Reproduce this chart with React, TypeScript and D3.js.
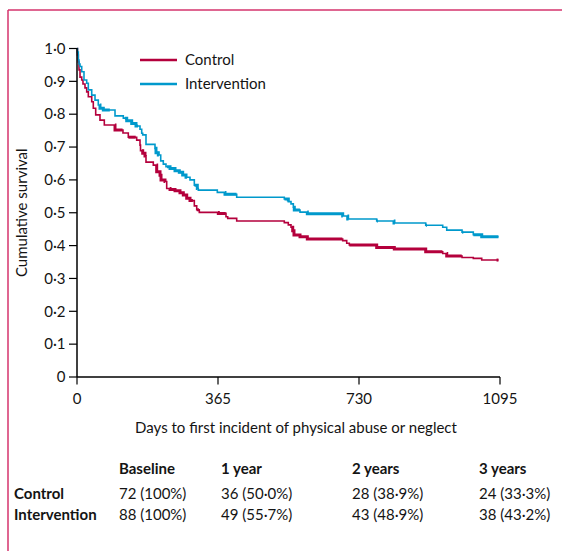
import React from "react";
import * as d3 from "d3";

// ---- Data ----
const controlSteps: [number, number][] = [
  [0, 1.0], [1.3, 0.98], [3.4, 0.959], [5.2, 0.935], [7.8, 0.913], [12.2, 0.904], [15.5, 0.892],
  [20.7, 0.88], [25.1, 0.868], [29.3, 0.853], [38.1, 0.838], [42.2, 0.818], [48.4, 0.798],
  [59.5, 0.782], [70.7, 0.767], [98.4, 0.752], [119, 0.743], [132.8, 0.73], [154.5, 0.721],
  [163.1, 0.706], [164.4, 0.689], [170.1, 0.681], [176, 0.673], [178.6, 0.654], [197.5, 0.645],
  [206.3, 0.625], [214.9, 0.614], [217.5, 0.6], [227.8, 0.595], [232.2, 0.574], [240.8, 0.571],
  [253.7, 0.567], [266.6, 0.561], [275.2, 0.554], [284, 0.544], [292.5, 0.537], [303.7, 0.521],
  [309.9, 0.509], [316.6, 0.501], [365.8, 0.498], [385.7, 0.488], [390.1, 0.483], [413.4, 0.475],
  [536.6, 0.47], [547, 0.463], [554, 0.456], [558.4, 0.445], [561.7, 0.432], [577.3, 0.427],
  [596.2, 0.42], [687.8, 0.415], [698.2, 0.407], [704.9, 0.402], [775.8, 0.394], [821.4, 0.39],
  [902.7, 0.381], [946.7, 0.376], [957.1, 0.368], [996.7, 0.364], [1025.9, 0.361], [1047.7, 0.356],
];
const controlEnd = 1091;

const interventionSteps: [number, number][] = [
  [0, 1.0], [1.3, 0.989], [3.4, 0.965], [5.2, 0.953], [7.8, 0.945], [12.2, 0.929], [18.1, 0.904],
  [25.1, 0.894], [29.3, 0.874], [38.1, 0.858], [46.6, 0.843], [55.1, 0.828], [59.5, 0.818],
  [68.1, 0.813], [98.4, 0.795], [119.9, 0.788], [128.7, 0.78], [141.6, 0.772], [152.7, 0.764],
  [163.1, 0.754], [167.5, 0.742], [170.1, 0.737], [178.6, 0.708], [201.9, 0.696], [204.5, 0.683],
  [210.5, 0.676], [216.7, 0.658], [223.4, 0.648], [230.4, 0.64], [240.8, 0.635], [253.7, 0.628],
  [264.8, 0.623], [273.6, 0.615], [282.2, 0.608], [292.5, 0.6], [303.7, 0.584], [311.4, 0.574],
  [314, 0.569], [363.2, 0.562], [383.1, 0.556], [413.4, 0.547], [536.6, 0.542], [547, 0.534],
  [554, 0.527], [560, 0.517], [562.5, 0.508], [577.3, 0.502], [596.2, 0.497], [687.8, 0.49],
  [700.8, 0.481], [775.8, 0.475], [820.6, 0.469], [902.7, 0.462], [946.7, 0.456], [957.1, 0.447],
  [996.7, 0.441], [1025.9, 0.433], [1047.7, 0.427],
];
const interventionEnd = 1091;

// day ranges with dense censoring marks (drawn as a thicker line)
const controlCensorBands: [number, number][] = [
  [98, 118], [133, 152], [168, 178], [206, 228], [240, 300], [310, 316], [365, 385],
  [556, 687], [705, 946], [957, 996], [1086, 1091],
];
const interventionCensorBands: [number, number][] = [
  [59, 85], [124, 158], [202, 212], [233, 285], [304, 312], [383, 413], [537, 547],
  [562, 577], [596, 688], [700, 703], [776, 779], [820, 823], [903, 906], [997, 1000],
  [1026, 1091],
];

const xTicks = [0, 365, 730, 1095];
const yTicks = [0, 0.1, 0.2, 0.3, 0.4, 0.5, 0.6, 0.7, 0.8, 0.9, 1.0];

const tableColumns = ["Baseline", "1 year", "2 years", "3 years"];
const tableRowLabels = ["Control", "Intervention"];
const controlAtRisk = ["72 (100%)", "36 (50·0%)", "28 (38·9%)", "24 (33·3%)"];
const interventionAtRisk = ["88 (100%)", "49 (55·7%)", "43 (48·9%)", "38 (43·2%)"];

const seriesNames = ["Control", "Intervention"];
const CONTROL_COLOR = "#b4003c";
const INTERVENTION_COLOR = "#0099cc";
const FRAME_COLOR = "#d5336c";
const TEXT_COLOR = "#141414";
const FONT = "Lato, 'Open Sans', sans-serif";
const FS = 15;

const W = 562;
const H = 551;

function survivalAt(steps: [number, number][], t: number) {
  let s = steps[0][1];
  for (const [d, v] of steps) {
    if (d <= t) s = v;
    else break;
  }
  return s;
}

export default function App() {
  const x = d3.scaleLinear().domain([0, 1095]).range([77, 500]);
  const y = d3.scaleLinear().domain([0, 1]).range([377, 48.5]);
  const line = d3
    .line<[number, number]>()
    .x((d) => x(d[0]))
    .y((d) => y(d[1]))
    .curve(d3.curveStepAfter);

  const fullPath = (steps: [number, number][], end: number) =>
    line([...steps, [end, steps[steps.length - 1][1]]]) || "";

  const bandPath = (steps: [number, number][], a: number, b: number) => {
    const pts: [number, number][] = [[a, survivalAt(steps, a)]];
    for (const [d, v] of steps) if (d > a && d <= b) pts.push([d, v]);
    pts.push([b, survivalAt(steps, b)]);
    return line(pts) || "";
  };

  const fmt = (v: number) => (v === 0 ? "0" : d3.format(".1f")(v).replace(".", "·"));

  const series = [
    { name: seriesNames[0], steps: controlSteps, end: controlEnd, bands: controlCensorBands, color: CONTROL_COLOR },
    { name: seriesNames[1], steps: interventionSteps, end: interventionEnd, bands: interventionCensorBands, color: INTERVENTION_COLOR },
  ];

  const colX = [119, 221, 352, 479];
  const rowY = [474, 499, 520];

  return (
    <svg
      width={W}
      height={H}
      style={{ position: "absolute", left: 0, top: 0, background: "#fff" }}
      fontFamily={FONT}
    >
      {/* frame */}
      <line x1={8} y1={10} x2={W} y2={10} stroke={FRAME_COLOR} strokeWidth={1.5} />
      <line x1={8} y1={10} x2={8} y2={H} stroke={FRAME_COLOR} strokeWidth={1.5} />

      {/* curves */}
      {series.map((s) => (
        <g key={s.name}>
          <path d={fullPath(s.steps, s.end)} fill="none" stroke={s.color} strokeWidth={1.6} />
          {s.bands.map((b, i) => (
            <path key={i} d={bandPath(s.steps, b[0], b[1])} fill="none" stroke={s.color} strokeWidth={3} />
          ))}
        </g>
      ))}

      {/* y axis */}
      <line x1={x(0)} y1={y(1) - 0.5} x2={x(0)} y2={y(0)} stroke="#000" strokeWidth={1.5} />
      {yTicks.map((t) => (
        <g key={t}>
          <line x1={x(0) - 8} x2={x(0)} y1={y(t)} y2={y(t)} stroke="#000" strokeWidth={1.2} />
          <text x={65.5} y={y(t)} dy="0.35em" textAnchor="end" fontSize={FS} fill={TEXT_COLOR}>
            {fmt(t)}
          </text>
        </g>
      ))}
      {/* x axis */}
      <line x1={x(0)} y1={y(0)} x2={x(1095)} y2={y(0)} stroke="#000" strokeWidth={1.5} />
      {xTicks.map((t) => (
        <g key={t}>
          <line x1={x(t)} x2={x(t)} y1={y(0)} y2={y(0) + 7.5} stroke="#000" strokeWidth={1.2} />
          <text x={x(t)} y={404} textAnchor="middle" fontSize={FS} fill={TEXT_COLOR}>
            {t}
          </text>
        </g>
      ))}
      <text x={296} y={433} textAnchor="middle" fontSize={FS} fill={TEXT_COLOR}>
        Days to first incident of physical abuse or neglect
      </text>
      <text
        transform={`translate(27, ${y(0.5)}) rotate(-90)`}
        textAnchor="middle"
        fontSize={FS}
        fill={TEXT_COLOR}
      >
        Cumulative survival
      </text>

      {/* legend */}
      {series.map((s, i) => (
        <g key={s.name} transform={`translate(0, ${60 + i * 24})`}>
          <line x1={140} x2={177} y1={0} y2={0} stroke={s.color} strokeWidth={2.5} />
          <text x={185} y={0} dy="0.35em" fontSize={FS} fill={TEXT_COLOR}>
            {s.name}
          </text>
        </g>
      ))}

      {/* at-risk table */}
      {tableColumns.map((c, i) => (
        <text key={c} x={colX[i]} y={rowY[0]} fontSize={FS} fontWeight="bold" fill={TEXT_COLOR}>
          {c}
        </text>
      ))}
      {[controlAtRisk, interventionAtRisk].map((row, r) => (
        <g key={r}>
          <text x={14} y={rowY[r + 1]} fontSize={FS} fontWeight="bold" fill={TEXT_COLOR}>
            {tableRowLabels[r]}
          </text>
          {row.map((v, i) => (
            <text key={i} x={colX[i]} y={rowY[r + 1]} fontSize={FS} fill={TEXT_COLOR}>
              {v}
            </text>
          ))}
        </g>
      ))}
    </svg>
  );
}
